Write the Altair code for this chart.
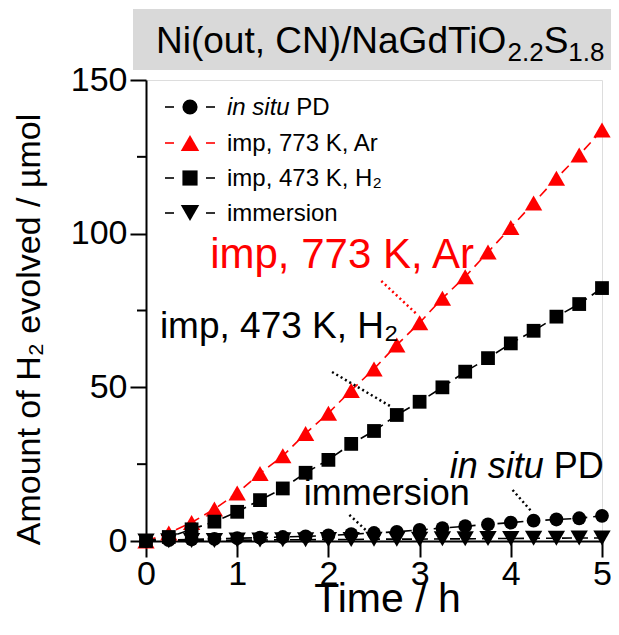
import altair as alt
import pandas as pd

# ---------------- data ----------------
time_h = [0, 0.25, 0.5, 0.75, 1.0, 1.25, 1.5, 1.75, 2.0, 2.25, 2.5,
          2.75, 3.0, 3.25, 3.5, 3.75, 4.0, 4.25, 4.5, 4.75, 5.0]
in_situ_pd = [0, 0.3, 0.5, 0.7, 0.9, 1.1, 1.3, 1.5, 1.8, 2.2, 2.6,
              3.0, 3.6, 4.2, 4.8, 5.4, 6.0, 6.6, 7.0, 7.4, 8.2]
imp_773_ar = [0, 2.6, 6.0, 10.4, 15.6, 22.0, 27.7, 35.0, 41.6, 49.0, 56.0,
              63.8, 71.0, 79.0, 86.0, 94.0, 102.0, 110.0, 118.0, 125.6, 133.7]
imp_473_h2 = [0, 1.3, 3.8, 6.3, 9.5, 13.3, 17.1, 22.2, 26.4, 31.6, 35.8,
              41.0, 45.3, 50.0, 55.1, 59.5, 64.3, 68.4, 73.0, 77.1, 82.3]
immersion = [0, 0.1, 0.2, 0.2, 0.3, 0.3, 0.4, 0.4, 0.5, 0.5, 0.6,
             0.6, 0.6, 0.7, 0.7, 0.8, 0.8, 0.9, 0.9, 1.0, 1.0]

series_keys = ["pd", "ar", "h2", "imm"]
series_values = [in_situ_pd, imp_773_ar, imp_473_h2, immersion]
series_colors = ["black", "#ff0000", "black", "black"]
series_shapes = ["circle", "triangle-up", "square", "triangle-down"]
series_sizes = [190, 300, 190, 300]
legend_labels = ["in situ PD", "imp, 773 K, Ar", "imp, 473 K, H\u2082", "immersion"]

x_ticks = [0, 1, 2, 3, 4, 5]
y_ticks = [0, 50, 100, 150]
y_minor = [25, 75, 125]

FONT = "Liberation Sans"
W, H = 456, 461
LP = 138          # left padding -> plot area starts at x = 146 on the page
SH = 150 - 8 - LP  # shift used to keep decorations at their page positions

rows = []
for k, vals in zip(series_keys, series_values):
    for t, v in zip(time_h, vals):
        rows.append({"series": k, "t": t, "v": v})
df = pd.DataFrame(rows)
one = pd.DataFrame({"a": [0]})

xs = alt.Scale(domain=[0, 5], nice=False, zero=False)
ys = alt.Scale(domain=[0, 150], nice=False, zero=False)

x_axis = alt.Axis(values=x_ticks, format="d", title="Time / h", labelFontSize=34, titleFontSize=41,
                  tickSize=16, tickWidth=2, domainWidth=2, labelPadding=0, labelFlush=False,
                  titleX=241, titleY=70, titleAlign="center", titleBaseline="alphabetic",
                  titleFontWeight="normal",
                  labelFont=FONT, titleFont=FONT, grid=False,
                  domainColor="black", tickColor="black", labelColor="black", titleColor="black")
y_axis = alt.Axis(values=y_ticks, format="d", title="Amount of H\u2082 evolved / \u00b5mol", labelFontSize=34,
                  titleFontSize=34, tickSize=16, tickWidth=2, domainWidth=2, labelPadding=3,
                  labelFlush=False,
                  titleX=-111 + SH, titleY=249, titleAngle=-90, titleBaseline="alphabetic",
                  titleAlign="center", titleFontWeight="normal",
                  labelFont=FONT, titleFont=FONT, grid=False,
                  domainColor="black", tickColor="black", labelColor="black", titleColor="black")

base = alt.Chart(df)
layers = []

# lines first
for k, c in zip(series_keys, series_colors):
    layers.append(
        base.transform_filter(alt.datum.series == k).mark_line(
            color=c, strokeWidth=1.6, strokeDash=[10, 6]
        ).encode(x=alt.X("t:Q", scale=xs, axis=x_axis), y=alt.Y("v:Q", scale=ys, axis=y_axis))
    )

# markers (drawing order)
for idx in [1, 0, 3, 2]:
    k = series_keys[idx]
    layers.append(
        base.transform_filter(alt.datum.series == k).mark_point(
            shape=series_shapes[idx], filled=True, color=series_colors[idx],
            size=series_sizes[idx], opacity=1
        ).encode(x=alt.X("t:Q", scale=xs), y=alt.Y("v:Q", scale=ys))
    )

# minor y ticks
layers.append(
    alt.Chart(pd.DataFrame({"v": y_minor})).mark_rule(color="black", strokeWidth=2).encode(
        y=alt.Y("v:Q", scale=ys), x=alt.value(-9), x2=alt.value(0)
    )
)

# ---------------- annotations ----------------
ann_text = ["imp, 773 K, Ar", "imp, 473 K, H\u2082", "immersion"]
ann_x = [2.15, 1.46, 2.64]
ann_y = [88.8, 66.0, 11.7]
ann_color = ["#ff0000", "black", "black"]
ann_size = [42, 37, 36]
for t, ax_, ay_, c, s in zip(ann_text, ann_x, ann_y, ann_color, ann_size):
    layers.append(
        alt.Chart(pd.DataFrame({"t": [ax_], "v": [ay_], "txt": [t]})).mark_text(
            font=FONT, fontSize=s, color=c, align="center", baseline="alphabetic"
        ).encode(x=alt.X("t:Q", scale=xs), y=alt.Y("v:Q", scale=ys), text="txt:N")
    )

# "in situ PD": italic part + upright part
ARIAL = {" ": 278, "P": 667, "D": 722}
pd_w = sum(ARIAL[c] for c in " PD") / 1000 * 36 / (W / 5)
pd_right = 5.02
pd_base = 20.5
layers.append(
    alt.Chart(pd.DataFrame({"t": [pd_right], "v": [pd_base], "txt": ["PD"]})).mark_text(
        font=FONT, fontSize=36, color="black", align="right", baseline="alphabetic"
    ).encode(x=alt.X("t:Q", scale=xs), y=alt.Y("v:Q", scale=ys), text="txt:N")
)
layers.append(
    alt.Chart(pd.DataFrame({"t": [pd_right - pd_w], "v": [pd_base], "txt": ["in situ"]})).mark_text(
        font=FONT, fontSize=36, color="black", align="right", baseline="alphabetic", fontStyle="italic"
    ).encode(x=alt.X("t:Q", scale=xs), y=alt.Y("v:Q", scale=ys), text="txt:N")
)

# leader lines (dotted)
lead_x1 = [2.58, 2.04, 4.02, 2.23]
lead_y1 = [84.6, 55.0, 16.6, 8.5]
lead_x2 = [2.98, 2.70, 4.23, 2.43]
lead_y2 = [73.5, 43.5, 9.5, 3.0]
lead_c = ["#ff0000", "black", "black", "black"]
for a, b, c_, d, col in zip(lead_x1, lead_y1, lead_x2, lead_y2, lead_c):
    layers.append(
        alt.Chart(pd.DataFrame({"t": [a], "v": [b], "t2": [c_], "v2": [d]})).mark_rule(
            color=col, strokeWidth=2.5, strokeDash=[2, 3]
        ).encode(x=alt.X("t:Q", scale=xs), y=alt.Y("v:Q", scale=ys), x2="t2:Q", y2="v2:Q")
    )

# ---------------- legend (manual) ----------------
leg_y = [27, 63, 98, 133]
for i in range(4):
    yy = leg_y[i]
    col = series_colors[i]
    layers.append(alt.Chart(one).mark_rule(color=col, strokeWidth=1.6).encode(
        x=alt.value(15 + SH), x2=alt.value(24 + SH), y=alt.value(yy)))
    layers.append(alt.Chart(one).mark_rule(color=col, strokeWidth=1.6).encode(
        x=alt.value(56 + SH), x2=alt.value(65 + SH), y=alt.value(yy)))
    layers.append(alt.Chart(one).mark_point(
        shape=series_shapes[i], filled=True, color=col, size=series_sizes[i] + 40, opacity=1
    ).encode(x=alt.value(40 + SH), y=alt.value(yy)))

LEG = 24
layers.append(alt.Chart(one).mark_text(font=FONT, fontSize=LEG, fontStyle="italic", align="left",
                                       baseline="alphabetic", color="black", text="in situ").encode(
    x=alt.value(77 + SH), y=alt.value(leg_y[0] + 8)))
insitu_w = (222 + 556 + 278 + 500 + 222 + 278 + 556 + 278) / 1000 * LEG
layers.append(alt.Chart(one).mark_text(font=FONT, fontSize=LEG, align="left",
                                       baseline="alphabetic", color="black", text="PD").encode(
    x=alt.value(77 + SH + insitu_w), y=alt.value(leg_y[0] + 8)))
for i in range(1, 4):
    layers.append(alt.Chart(one).mark_text(font=FONT, fontSize=LEG, align="left",
                                           baseline="alphabetic", color="black",
                                           text=legend_labels[i]).encode(
        x=alt.value(77 + SH), y=alt.value(leg_y[i] + 8)))

# ---------------- title box ----------------
layers.append(alt.Chart(one).mark_rect(color="#d9d9d9").encode(
    x=alt.value(-17 + SH), x2=alt.value(W + 12), y=alt.value(-71), y2=alt.value(-10)))

AW = {"N": 722, "i": 222, "(": 333, "o": 556, "u": 556, "t": 278, ",": 278, " ": 278,
      "C": 722, ")": 333, "/": 278, "a": 556, "G": 778, "d": 556, "T": 611, "O": 778,
      "S": 667, "2": 556, "1": 556, "8": 556, ".": 278}
TS, SS = 37, 26
segs = [("Ni(out, CN)/NaGdTiO", TS, 0), ("2.2", SS, 8), ("S", TS, 0), ("1.8", SS, 8)]
cx = 6 + SH
for s, fs, dy in segs:
    layers.append(alt.Chart(one).mark_text(font=FONT, fontSize=fs, align="left",
                                           baseline="alphabetic", color="black", text=s).encode(
        x=alt.value(cx), y=alt.value(-27 + dy)))
    cx += sum(AW[c] for c in s) / 1000 * fs

chart = alt.layer(*layers).properties(
    width=W, height=H,
    autosize=alt.AutoSizeParams(type="none"),
    padding={"left": LP, "top": 72, "right": 603 - LP - W, "bottom": 78},
).configure_view(stroke="black", strokeWidth=2).configure(background="white")

chart.save("out.html", embed_options={"renderer": "svg", "actions": False})
